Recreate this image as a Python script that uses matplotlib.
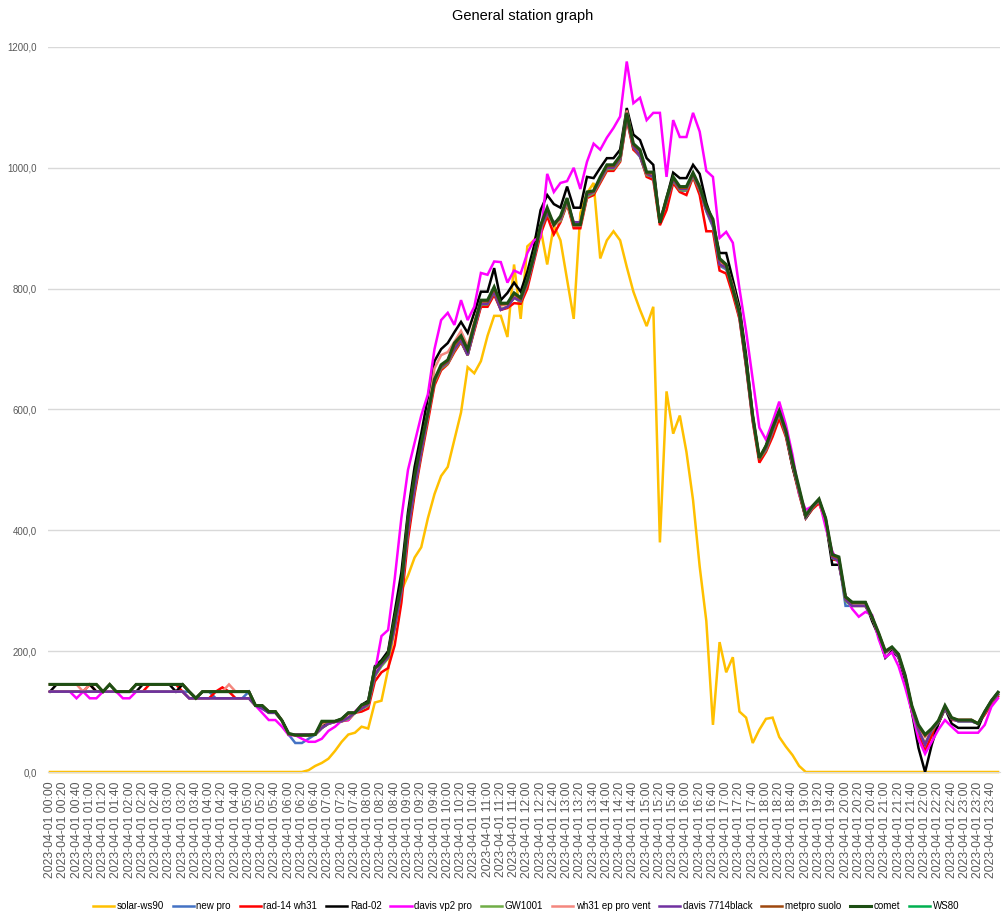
import numpy as np
import matplotlib.pyplot as plt
import matplotlib.ticker as mticker

plt.rcParams['font.family'] = ['Liberation Sans', 'DejaVu Sans']

# 10-minute samples, 2023-04-01 00:00 .. 23:50
times = [f"2023-04-01 {h:02d}:{m:02d}" for h in range(24) for m in range(0, 60, 10)]

solar_ws90 = [
    0, 0, 0, 0, 0, 0, 0, 0, 0, 0, 0, 0,
    0, 0, 0, 0, 0, 0, 0, 0, 0, 0, 0, 0,
    0, 0, 0, 0, 0, 0, 0, 0, 0, 0, 0, 0,
    0, 0, 0, 3, 10, 15, 22, 35, 50, 62, 65, 75,
    72, 115, 118, 170, 240, 300, 325, 355, 372, 420, 460, 490,
    505, 550, 595, 670, 660, 680, 722, 755, 755, 720, 840, 750,
    870, 880, 900, 840, 905, 880, 815, 750, 925, 958, 975, 850,
    880, 895, 880, 836, 795, 765, 738, 770, 380, 630, 560, 590,
    530, 450, 340, 250, 78, 215, 165, 190, 100, 90, 48, 70,
    88, 90, 58, 42, 28, 10, 0, 0, 0, 0, 0, 0,
    0, 0, 0, 0, 0, 0, 0, 0, 0, 0, 0, 0,
    0, 0, 0, 0, 0, 0, 0, 0, 0, 0, 0, 0,
]

new_pro = [
    133, 133, 133, 133, 133, 133, 133, 133, 133, 133, 133, 133,
    133, 133, 133, 133, 133, 133, 133, 133, 133, 133, 122, 133,
    133, 122, 122, 122, 122, 122, 133, 110, 105, 98, 98, 85,
    62, 48, 48, 55, 62, 73, 80, 83, 84, 90, 98, 105,
    112, 160, 178, 190, 240, 300, 395, 465, 528, 588, 645, 668,
    676, 698, 712, 690, 732, 772, 772, 792, 765, 770, 785, 778,
    808, 850, 898, 925, 905, 912, 942, 905, 905, 952, 958, 978,
    998, 998, 1012, 1082, 1032, 1018, 988, 985, 912, 942, 978, 962,
    962, 985, 962, 928, 902, 838, 832, 798, 752, 672, 582, 518,
    532, 562, 592, 558, 508, 462, 420, 436, 448, 418, 352, 350,
    275, 275, 275, 275, 255, 228, 198, 205, 190, 158, 105, 65,
    45, 68, 82, 105, 88, 84, 84, 84, 80, 98, 116, 128,
]

rad14_wh31 = [
    133, 133, 133, 133, 133, 133, 145, 133, 133, 133, 133, 133,
    133, 133, 133, 145, 145, 145, 145, 145, 133, 122, 122, 122,
    122, 133, 140, 133, 122, 122, 122, 110, 110, 98, 98, 85,
    62, 62, 62, 62, 62, 73, 80, 83, 84, 86, 98, 100,
    105, 150, 165, 172, 210, 280, 385, 460, 522, 580, 640, 665,
    675, 695, 712, 690, 730, 770, 770, 790, 765, 768, 776, 775,
    800, 845, 890, 920, 890, 910, 940, 900, 900, 950, 955, 975,
    995, 995, 1010, 1080, 1030, 1020, 985, 980, 905, 930, 975, 960,
    955, 985, 955, 895, 895, 830, 825, 790, 750, 670, 580, 512,
    530, 555, 585, 555, 505, 460, 420, 435, 445, 415, 352, 350,
    285, 275, 275, 275, 255, 228, 198, 205, 190, 155, 100, 60,
    35, 60, 80, 105, 86, 86, 86, 86, 80, 95, 112, 125,
]

rad_02 = [
    133, 145, 145, 145, 145, 145, 145, 133, 133, 133, 133, 133,
    133, 133, 145, 145, 145, 145, 145, 133, 145, 133, 122, 133,
    133, 133, 133, 133, 133, 133, 133, 110, 110, 100, 100, 85,
    62, 61, 61, 61, 62, 73, 84, 84, 88, 98, 98, 111,
    118, 175, 185, 200, 265, 330, 430, 505, 560, 620, 680, 700,
    710, 728, 745, 727, 760, 795, 795, 834, 781, 793, 810, 795,
    828, 870, 930, 955, 940, 934, 969, 934, 934, 985, 983, 1000,
    1016, 1016, 1030, 1099, 1055, 1046, 1016, 1005, 909, 950, 992, 983,
    983, 1005, 990, 942, 910, 859, 859, 815, 770, 690, 590, 518,
    540, 568, 598, 560, 505, 465, 420, 438, 450, 415, 343, 343,
    290, 281, 281, 281, 250, 225, 189, 200, 190, 150, 100, 40,
    0, 45, 80, 106, 80, 73, 73, 73, 73, 100, 118, 132,
]

davis_vp2_pro = [
    133, 133, 133, 133, 122, 133, 122, 122, 133, 133, 133, 122,
    122, 133, 133, 133, 133, 133, 133, 133, 133, 122, 122, 122,
    122, 122, 122, 122, 122, 122, 122, 110, 98, 86, 86, 75,
    61, 61, 55, 50, 50, 55, 68, 75, 85, 86, 100, 110,
    115, 165, 225, 235, 320, 420, 500, 545, 590, 625, 700, 748,
    760, 740, 781, 748, 770, 826, 823, 845, 844, 810, 830, 825,
    859, 880, 885, 990, 960, 975, 978, 1000, 965, 1010, 1040, 1030,
    1050, 1066, 1085, 1176, 1107, 1116, 1079, 1091, 1091, 985, 1079, 1051,
    1051, 1091, 1060, 995, 985, 884, 894, 876, 800, 730, 650, 570,
    550, 580, 613, 575, 525, 460, 434, 440, 450, 405, 365, 345,
    290, 270, 257, 265, 260, 220, 190, 198, 175, 140, 100, 55,
    30, 50, 70, 86, 75, 65, 65, 65, 65, 78, 108, 122,
]

gw1001 = [
    133, 133, 133, 133, 133, 133, 133, 133, 133, 133, 133, 133,
    133, 133, 133, 133, 133, 133, 133, 133, 133, 122, 122, 122,
    122, 122, 122, 122, 122, 122, 122, 110, 110, 98, 98, 85,
    62, 62, 62, 62, 62, 73, 80, 83, 84, 88, 98, 104,
    110, 158, 175, 188, 238, 298, 398, 468, 528, 588, 645, 668,
    676, 698, 714, 690, 734, 774, 774, 794, 766, 770, 785, 779,
    808, 850, 898, 925, 905, 912, 942, 905, 905, 952, 958, 978,
    998, 998, 1012, 1084, 1034, 1020, 988, 985, 912, 944, 979, 963,
    963, 986, 963, 930, 904, 840, 834, 798, 754, 674, 584, 518,
    533, 563, 593, 558, 508, 463, 421, 437, 449, 418, 354, 350,
    283, 275, 275, 275, 255, 228, 198, 205, 190, 158, 106, 68,
    48, 68, 82, 105, 88, 84, 84, 84, 80, 98, 116, 128,
]

wh31_ep_pro_vent = [
    145, 145, 145, 145, 145, 133, 145, 145, 133, 133, 133, 133,
    133, 145, 145, 145, 145, 145, 145, 145, 145, 133, 122, 133,
    133, 133, 133, 145, 133, 133, 133, 110, 110, 100, 100, 85,
    62, 61, 61, 61, 62, 80, 84, 84, 86, 96, 98, 108,
    112, 170, 180, 192, 250, 305, 415, 485, 540, 592, 668, 690,
    695, 712, 730, 705, 745, 778, 778, 798, 772, 774, 790, 782,
    812, 855, 900, 930, 904, 915, 945, 904, 904, 958, 960, 982,
    1002, 1002, 1018, 1095, 1040, 1025, 990, 990, 912, 948, 982, 966,
    966, 990, 966, 934, 912, 845, 838, 805, 762, 678, 588, 522,
    538, 566, 596, 562, 512, 468, 424, 440, 450, 418, 358, 352,
    288, 280, 280, 280, 255, 230, 200, 206, 193, 158, 108, 75,
    58, 70, 84, 108, 90, 86, 86, 86, 80, 100, 116, 130,
]

davis_7714black = [
    133, 133, 133, 133, 133, 133, 133, 133, 133, 133, 133, 133,
    133, 133, 133, 133, 133, 133, 133, 133, 133, 122, 122, 122,
    122, 122, 122, 122, 122, 122, 122, 110, 105, 98, 98, 85,
    62, 62, 62, 62, 62, 73, 80, 83, 84, 90, 98, 105,
    112, 160, 178, 190, 240, 300, 400, 470, 530, 590, 648, 670,
    678, 700, 715, 690, 735, 775, 775, 795, 765, 770, 785, 780,
    810, 850, 900, 925, 910, 915, 945, 910, 910, 955, 960, 980,
    1000, 1000, 1015, 1085, 1035, 1020, 990, 985, 915, 945, 980, 965,
    965, 988, 965, 930, 905, 840, 835, 800, 755, 675, 585, 520,
    535, 565, 595, 560, 510, 465, 422, 438, 450, 420, 355, 350,
    285, 275, 275, 275, 255, 228, 198, 205, 190, 158, 108, 70,
    45, 70, 82, 105, 88, 84, 84, 84, 80, 98, 116, 128,
]

metpro_suolo = [
    145, 145, 145, 145, 145, 145, 145, 145, 133, 145, 133, 133,
    133, 145, 145, 145, 145, 145, 145, 145, 145, 133, 122, 133,
    133, 133, 133, 133, 133, 133, 133, 110, 110, 100, 100, 85,
    63, 61, 61, 61, 62, 82, 84, 84, 87, 97, 98, 110,
    114, 171, 181, 194, 253, 308, 418, 488, 543, 594, 648, 672,
    680, 706, 720, 698, 742, 779, 779, 800, 774, 775, 791, 783,
    813, 855, 903, 932, 905, 918, 948, 905, 905, 958, 961, 983,
    1003, 1003, 1018, 1089, 1038, 1028, 991, 991, 910, 948, 983, 967,
    967, 990, 967, 935, 913, 848, 838, 800, 758, 678, 588, 519,
    538, 568, 596, 563, 513, 468, 424, 439, 451, 419, 358, 354,
    289, 280, 280, 280, 256, 229, 199, 206, 194, 159, 109, 76,
    60, 71, 84, 109, 89, 86, 86, 86, 80, 99, 117, 131,
]

comet = [
    145, 145, 145, 145, 145, 145, 145, 145, 133, 145, 133, 133,
    133, 145, 145, 145, 145, 145, 145, 145, 145, 133, 122, 133,
    133, 133, 133, 133, 133, 133, 133, 110, 110, 100, 100, 85,
    64, 61, 61, 61, 62, 84, 84, 84, 88, 98, 98, 111,
    115, 172, 182, 195, 255, 310, 420, 490, 545, 595, 650, 674,
    682, 710, 722, 699, 740, 781, 781, 803, 776, 776, 793, 785,
    815, 855, 905, 934, 906, 920, 950, 906, 906, 960, 962, 985,
    1005, 1005, 1020, 1091, 1040, 1030, 993, 993, 909, 950, 985, 969,
    969, 992, 969, 936, 915, 850, 840, 800, 760, 680, 590, 520,
    540, 570, 598, 565, 515, 470, 425, 440, 452, 420, 360, 356,
    290, 281, 281, 281, 257, 230, 200, 207, 195, 160, 110, 78,
    62, 72, 85, 110, 90, 86, 86, 86, 80, 100, 118, 132,
]

# no readings for this station on the day
ws80 = [np.nan] * 144

names = ["solar-ws90", "new pro", "rad-14 wh31", "Rad-02", "davis vp2 pro", "GW1001",
         "wh31 ep pro vent", "davis 7714black", "metpro suolo", "comet", "WS80"]
values = [solar_ws90, new_pro, rad14_wh31, rad_02, davis_vp2_pro, gw1001,
          wh31_ep_pro_vent, davis_7714black, metpro_suolo, comet, ws80]
colors = ["#FFC000", "#4472C4", "#FF0000", "#000000", "#FF00FF", "#70AD47",
          "#F4877E", "#7030A0", "#9E480E", "#1E4F14", "#00B050"]


def main():
    fig = plt.figure(figsize=(10.03, 9.18), dpi=100)
    ax = fig.add_axes([48 / 1003, (918 - 772) / 918, 952 / 1003, 725 / 918])
    x = np.arange(len(times))

    for name, vals, color in zip(names, values, colors):
        lw = 2.2 if name == "comet" else 1.8
        ax.plot(x, vals, color=color, lw=lw, label=name, clip_on=False,
                solid_joinstyle="miter")

    ax.set_ylim(0, 1200)
    ax.set_xlim(-0.3, 143.3)
    ax.set_yticks(range(0, 1201, 200))
    ax.yaxis.set_major_formatter(
        mticker.FuncFormatter(lambda v, p: f"{v:.1f}".replace(".", ",")))
    ax.set_xticks(x[::2])
    ax.set_xticklabels(times[::2], rotation=90)
    ax.tick_params(axis="x", length=0, pad=7, labelsize=8.8, labelcolor="#595959")
    ax.tick_params(axis="y", length=0, pad=8, labelsize=7, labelcolor="#595959")
    ax.grid(axis="y", color="#D9D9D9", lw=1)
    ax.set_axisbelow(True)
    for side in ["top", "right", "left"]:
        ax.spines[side].set_visible(False)
    ax.spines["bottom"].set_color("#D9D9D9")

    fig.text(523 / 1003, 1 - 16 / 918, "General station graph",
             ha="center", va="center", fontsize=10.5)

    fig.legend(loc="center", bbox_to_anchor=(526 / 1003, 1 - 906 / 918), ncol=11,
               frameon=False, fontsize=7, handlelength=2.2, handletextpad=0.25,
               columnspacing=0.9)

    fig.savefig("out.png", dpi=100)


if __name__ == "__main__":
    main()
